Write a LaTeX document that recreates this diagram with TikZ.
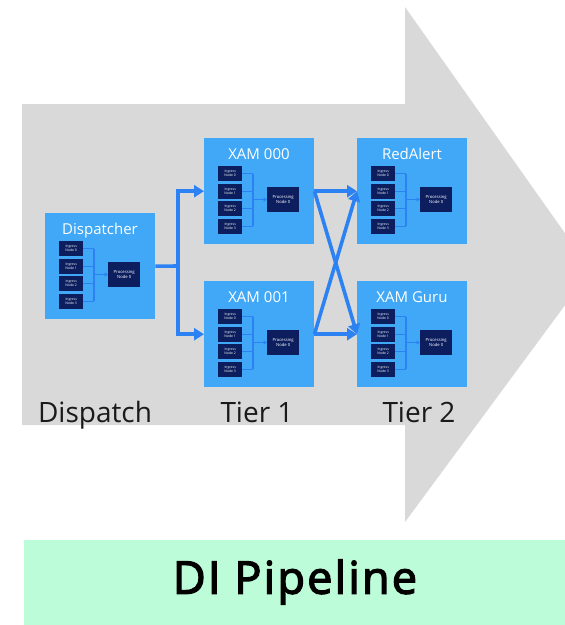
\documentclass[tikz,border=0pt]{standalone}
\usepackage{fontspec}
\setmainfont{Open Sans}
\newfontfamily\bannerfont[FakeBold=3,LetterSpace=5]{Open Sans}
\usetikzlibrary{arrows.meta,calc}

\definecolor{pipegrey}{HTML}{D9D9D9}
\definecolor{stagefill}{HTML}{40A8F7}
\definecolor{linkblue}{HTML}{2C82F2}
\definecolor{innernavy}{HTML}{0C1E5E}
\definecolor{bannergreen}{HTML}{BCFCD8}
\definecolor{labelink}{HTML}{1A1A1A}

\tikzset{
  stage/.style={fill=stagefill, draw=none, inner sep=0pt,
    minimum width=110pt, minimum height=106pt, anchor=north west},
  stagetitle/.style={text=white, font=\fontsize{15}{18}\selectfont, anchor=base},
  ingress/.style={fill=innernavy, draw=none, inner sep=0pt, text=white,
    align=center, font=\fontsize{3.4}{4}\selectfont,
    minimum width=24pt, minimum height=15pt, anchor=north west},
  procnode/.style={fill=innernavy, draw=none, inner sep=0pt, text=white,
    align=center, font=\fontsize{4.2}{5}\selectfont,
    minimum width=32pt, minimum height=25pt, anchor=north west},
  innerlink/.style={draw=linkblue, line width=1.3pt},
  innerarrow/.style={innerlink, -{Triangle[length=3.5pt,width=4pt]}},
  mainlink/.style={draw=linkblue, line width=3.6pt},
  mainarrow/.style={mainlink, -{Triangle[length=10pt,width=12pt]}},
  tierlabel/.style={text=labelink, font=\fontsize{28}{33}\selectfont, anchor=base},
}

% one stage: name, left x, top y, title
\newcommand\stagebox[4]{%
  \node[stage] (#1) at (#2,#3) {};
  \node[stagetitle] (#1-title) at (#2+55,#3+21) {#4};
  \foreach \i in {0,1,2,3}{
    \node[ingress] (#1-in\i) at (#2+14,#3+28+17.5*\i) {Ingress\\Node \i};
  }
  \node[procnode] (#1-proc) at (#2+63,#3+49) {Processing\\Node 0};
  \coordinate (#1-bus) at (#2+49,#3+61.5);
  \foreach \i in {0,1,2,3}{
    \draw[innerlink] (#1-in\i.east) -- (#1-in\i.east -| #1-bus);
  }
  \draw[innerlink] (#1-in0.east -| #1-bus) -- (#1-in3.east -| #1-bus);
  \draw[innerarrow] (#1-bus) -- (#1-proc.west |- #1-bus);
}

\begin{document}
\begin{tikzpicture}[x=1pt,y=-1pt]
  \useasboundingbox (0,0) rectangle (565,625);
  \clip (0,0) rectangle (565,625);

  % big pipeline arrow
  \fill[pipegrey] (22,104) -- (405,104) -- (405,7) -- (591,270)
    -- (405,522) -- (405,425) -- (22,425) -- cycle;

  % stages
  \stagebox{disp}{45}{213}{Dispatcher}
  \stagebox{xa}{204}{138}{XAM 000}
  \stagebox{xb}{204}{281}{XAM 001}
  \stagebox{red}{357}{138}{RedAlert}
  \stagebox{guru}{357}{281}{XAM Guru}

  % links between stages
  \coordinate (split) at (178,266);
  \draw[mainlink] (disp.east) -- (split);
  \draw[mainarrow] (split) |- (xa.west);
  \draw[mainarrow] (split) |- (xb.west);
  \draw[mainarrow] (xa.east) -- (red.west);
  \draw[mainarrow] (xa.east) -- (guru.west);
  \draw[mainarrow] (xb.east) -- (guru.west);
  \draw[mainarrow] (xb.east) -- (red.west);

  % tier labels
  \node[tierlabel] (lab-disp) at (95,422) {Dispatch};
  \node[tierlabel] (lab-t1) at (257,422) {Tier 1};
  \node[tierlabel] (lab-t2) at (419,422) {Tier 2};

  % banner
  \node[fill=bannergreen, inner sep=0pt, minimum width=541pt, minimum height=85pt,
    anchor=north west] (banner) at (24,540) {};
  \node[font=\bannerfont\fontsize{45}{52}\selectfont, text=black] (banner-text)
    at (295,582) {DI Pipeline};
\end{tikzpicture}
\end{document}
